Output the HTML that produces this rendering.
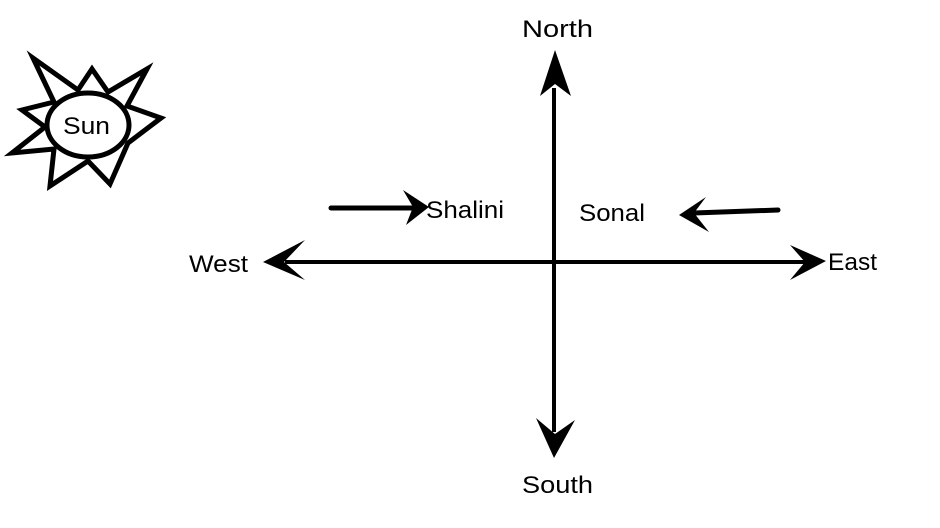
<!DOCTYPE html>
<html><head><meta charset="utf-8"><style>
html,body{margin:0;padding:0;background:#fff;width:940px;height:528px;overflow:hidden}
svg{display:block}
text{font-family:"Liberation Sans",sans-serif;font-size:24px;fill:#000}
</style></head><body>
<svg width="940" height="528" viewBox="0 0 940 528" xmlns="http://www.w3.org/2000/svg">
<polygon points="33,58 78,90 92,69 108,92 147,69 127,106 161,118 128,143 110,184 88,161 50,186 54,149 12,153 45,127 22,110 54,102" fill="#fff" stroke="#000" stroke-width="5" stroke-linejoin="miter"/>
<ellipse cx="88" cy="125" rx="41" ry="32" fill="#fff" stroke="#000" stroke-width="5"/>
<text x="63" y="134" textLength="47" lengthAdjust="spacingAndGlyphs">Sun</text>

<line x1="554" y1="88" x2="554" y2="432" stroke="#000" stroke-width="4"/>
<line x1="285" y1="262" x2="808" y2="262" stroke="#000" stroke-width="4"/>
<polygon points="555,50 571,96 555,84 540,96" fill="#000"/>
<polygon points="554,458 575,420 555,434 536,418" fill="#000"/>
<polygon points="263,262 305,240 284,262 305,280" fill="#000"/>
<polygon points="826,261 790,245 805,262 790,280" fill="#000"/>

<line x1="331" y1="208" x2="412" y2="208" stroke="#000" stroke-width="5" stroke-linecap="round"/>
<polygon points="429,207 403,190 413,207 406,225" fill="#000"/>
<line x1="778" y1="210" x2="694" y2="213" stroke="#000" stroke-width="5" stroke-linecap="round"/>
<polygon points="679,215 706,197 694,213 709,232" fill="#000"/>

<text x="522" y="37" textLength="71" lengthAdjust="spacingAndGlyphs">North</text>
<text x="522" y="493" textLength="71" lengthAdjust="spacingAndGlyphs">South</text>
<text x="189" y="272" textLength="59" lengthAdjust="spacingAndGlyphs">West</text>
<text x="828" y="270" textLength="49" lengthAdjust="spacingAndGlyphs">East</text>
<text x="426" y="218" textLength="78" lengthAdjust="spacingAndGlyphs">Shalini</text>
<text x="579" y="221" textLength="66" lengthAdjust="spacingAndGlyphs">Sonal</text>
</svg>
</body></html>
